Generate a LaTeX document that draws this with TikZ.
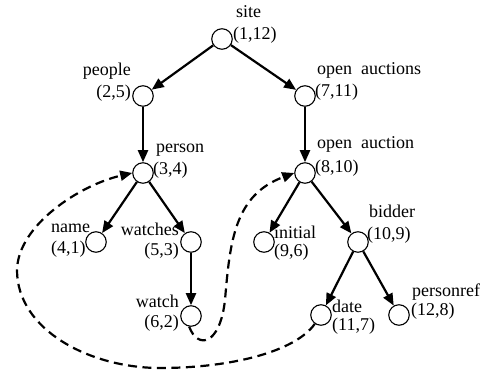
\documentclass[tikz,border=0pt]{standalone}
\usepackage{fontspec}
\setmainfont{Liberation Serif}
\usetikzlibrary{arrows.meta}
\begin{document}
\begin{tikzpicture}[x=1pt,y=-1pt,
  vtx/.style={circle,draw,line width=1.1pt,minimum size=20.5pt,inner sep=0pt},
  lbl/.style={inner sep=0pt,font=\fontsize{18}{21}\selectfont},
  tedge/.style={line width=2.2pt,-{Triangle[length=12pt,width=10pt]}},
  link/.style={line width=2.2pt,dash pattern=on 9pt off 5.5pt,-{Triangle[length=12pt,width=10pt]}}
]
\useasboundingbox (0,0) rectangle (489,371);

% tree vertices
\node[vtx] (site)      at (222,39)  {};
\node[vtx] (people)    at (143,96)  {};
\node[vtx] (person)    at (143,173) {};
\node[vtx] (oas)       at (305,96)  {};
\node[vtx] (oa)        at (305,173) {};
\node[vtx] (name)      at (96,242)  {};
\node[vtx] (watches)   at (191,242) {};
\node[vtx] (watch)     at (191,316) {};
\node[vtx] (initial)   at (264,242) {};
\node[vtx] (bidder)    at (358,242) {};
\node[vtx] (date)      at (321,315) {};
\node[vtx] (personref) at (399,315) {};

% element names and (pre,post) numbers
\node[lbl,anchor=base west] (siteT) at (236,18) {site};
\node[lbl,anchor=base west] (siteN) at (233,40) {(1,12)};
\node[lbl,anchor=base east] (peopleT) at (131,76) {people};
\node[lbl,anchor=base east] (peopleN) at (131,98) {(2,5)};
\node[lbl,anchor=base west] (personT) at (156,153) {person};
\node[lbl,anchor=base west] (personN) at (153,175) {(3,4)};
\node[lbl,anchor=base west] (oasT) at (317,75) {open\ \ auctions};
\node[lbl,anchor=base west] (oasN) at (315,97) {(7,11)};
\node[lbl,anchor=base west] (oaT) at (317,149) {open\ \ auction};
\node[lbl,anchor=base west] (oaN) at (315,173) {(8,10)};
\node[lbl,anchor=base west] (nameT) at (51,233) {name};
\node[lbl,anchor=base west] (nameN) at (51,253) {(4,1)};
\node[lbl,anchor=base east] (watchesT) at (179,235) {watches};
\node[lbl,anchor=base east] (watchesN) at (179,255) {(5,3)};
\node[lbl,anchor=base east] (watchT) at (179,307) {watch};
\node[lbl,anchor=base east] (watchN) at (179,327) {(6,2)};
\node[lbl,anchor=base west] (initialT) at (274,238) {initial};
\node[lbl,anchor=base west] (initialN) at (274,256) {(9,6)};
\node[lbl,anchor=base west] (bidderT) at (369,217) {bidder};
\node[lbl,anchor=base west] (bidderN) at (367,239) {(10,9)};
\node[lbl,anchor=base west] (dateT) at (332,312) {date};
\node[lbl,anchor=base west] (dateN) at (332,330) {(11,7)};
\node[lbl,anchor=base west] (personrefT) at (412,296) {personref};
\node[lbl,anchor=base west] (personrefN) at (411,315) {(12,8)};

% parent-child edges
\draw[tedge] (site) -- (people);
\draw[tedge] (site) -- (oas);
\draw[tedge] (people) -- (person);
\draw[tedge] (oas) -- (oa);
\draw[tedge] (person) -- (name);
\draw[tedge] (person) -- (watches);
\draw[tedge] (watches) -- (watch);
\draw[tedge] (oa) -- (initial);
\draw[tedge] (oa) -- (bidder);
\draw[tedge] (bidder) -- (date);
\draw[tedge] (bidder) -- (personref);

% reference links
\draw[link] (watch.260) .. controls (198,350) and (220,345) .. (225,300)
  .. controls (230,240) and (235,195) .. (oa.west);
\draw[link] (date.235) .. controls (295,352) and (230,368) .. (160,368)
  .. controls (90,368) and (17,330) .. (17,270)
  .. controls (18,225) and (80,185) .. (person.west);
\end{tikzpicture}
\end{document}
